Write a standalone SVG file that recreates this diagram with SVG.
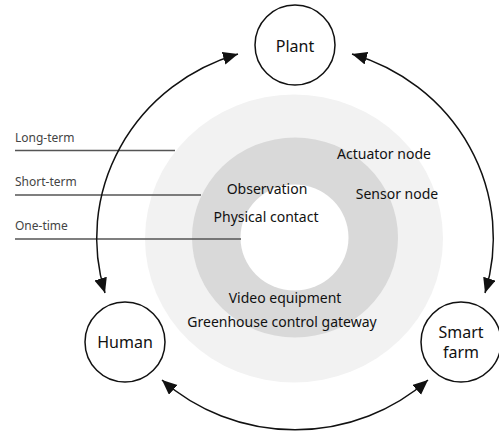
<svg xmlns="http://www.w3.org/2000/svg" width="499" height="433" viewBox="0 0 499 433">
<defs>
<style>
.node circle{fill:#fff;stroke:#111;stroke-width:1.5}
.nlabel{font-family:"Noto Sans","Liberation Sans",sans-serif;font-size:16px;fill:#111;text-anchor:middle}
.ilabel{font-family:"Noto Sans","Liberation Sans",sans-serif;font-size:14px;fill:#111;text-anchor:middle}
.tlabel{font-family:"Noto Sans","Liberation Sans",sans-serif;font-size:12px;fill:#444}
.tline{stroke:#555;stroke-width:1.6;fill:none}
.conn{stroke:#111;stroke-width:1.5;fill:none;marker-start:url(#ah);marker-end:url(#ah)}
</style>
<marker id="ah" markerUnits="userSpaceOnUse" markerWidth="16" markerHeight="14" refX="15" refY="6.5" orient="auto-start-reverse">
<path d="M0,0 L15,6.5 L0,13 z" fill="#111"/>
</marker>
</defs>
<rect width="499" height="433" fill="#fff"/>
<g id="rings">
<ellipse cx="294" cy="238.5" rx="149" ry="144" fill="#f2f2f2"/>
<ellipse cx="295" cy="237.5" rx="103" ry="100" fill="#d9d9d9"/>
<ellipse cx="294.5" cy="237.5" rx="54" ry="53" fill="#fff"/>
</g>
<g id="timeline">
<line class="tline" x1="15" y1="150.5" x2="175" y2="150.5"/>
<line class="tline" x1="15" y1="195" x2="201" y2="195"/>
<line class="tline" x1="15" y1="239" x2="241" y2="239"/>
<text class="tlabel" x="15" y="142">Long-term</text>
<text class="tlabel" x="15" y="186">Short-term</text>
<text class="tlabel" x="15" y="230">One-time</text>
</g>
<g id="ring-labels">
<text class="ilabel" x="384" y="159">Actuator node</text>
<text class="ilabel" x="397" y="199">Sensor node</text>
<text class="ilabel" x="267" y="194">Observation</text>
<text class="ilabel" x="266" y="222">Physical contact</text>
<text class="ilabel" x="285" y="303">Video equipment</text>
<text class="ilabel" x="282" y="327">Greenhouse control gateway</text>
</g>
<g id="connectors">
<path class="conn" d="M238,54 A198,192 0 0 0 105,293"/>
<path class="conn" d="M352,54 A198,192 0 0 1 485,293"/>
<path class="conn" d="M162,380 A198,192 0 0 0 428,380"/>
</g>
<g id="plant" class="node">
<circle cx="295" cy="45" r="40"/>
<text class="nlabel" x="295" y="52">Plant</text>
</g>
<g id="human" class="node">
<circle cx="125" cy="342" r="40"/>
<text class="nlabel" x="125" y="348">Human</text>
</g>
<g id="smartfarm" class="node">
<circle cx="461" cy="342" r="40"/>
<text class="nlabel" x="461" y="338">Smart</text>
<text class="nlabel" x="461" y="358">farm</text>
</g>
</svg>
